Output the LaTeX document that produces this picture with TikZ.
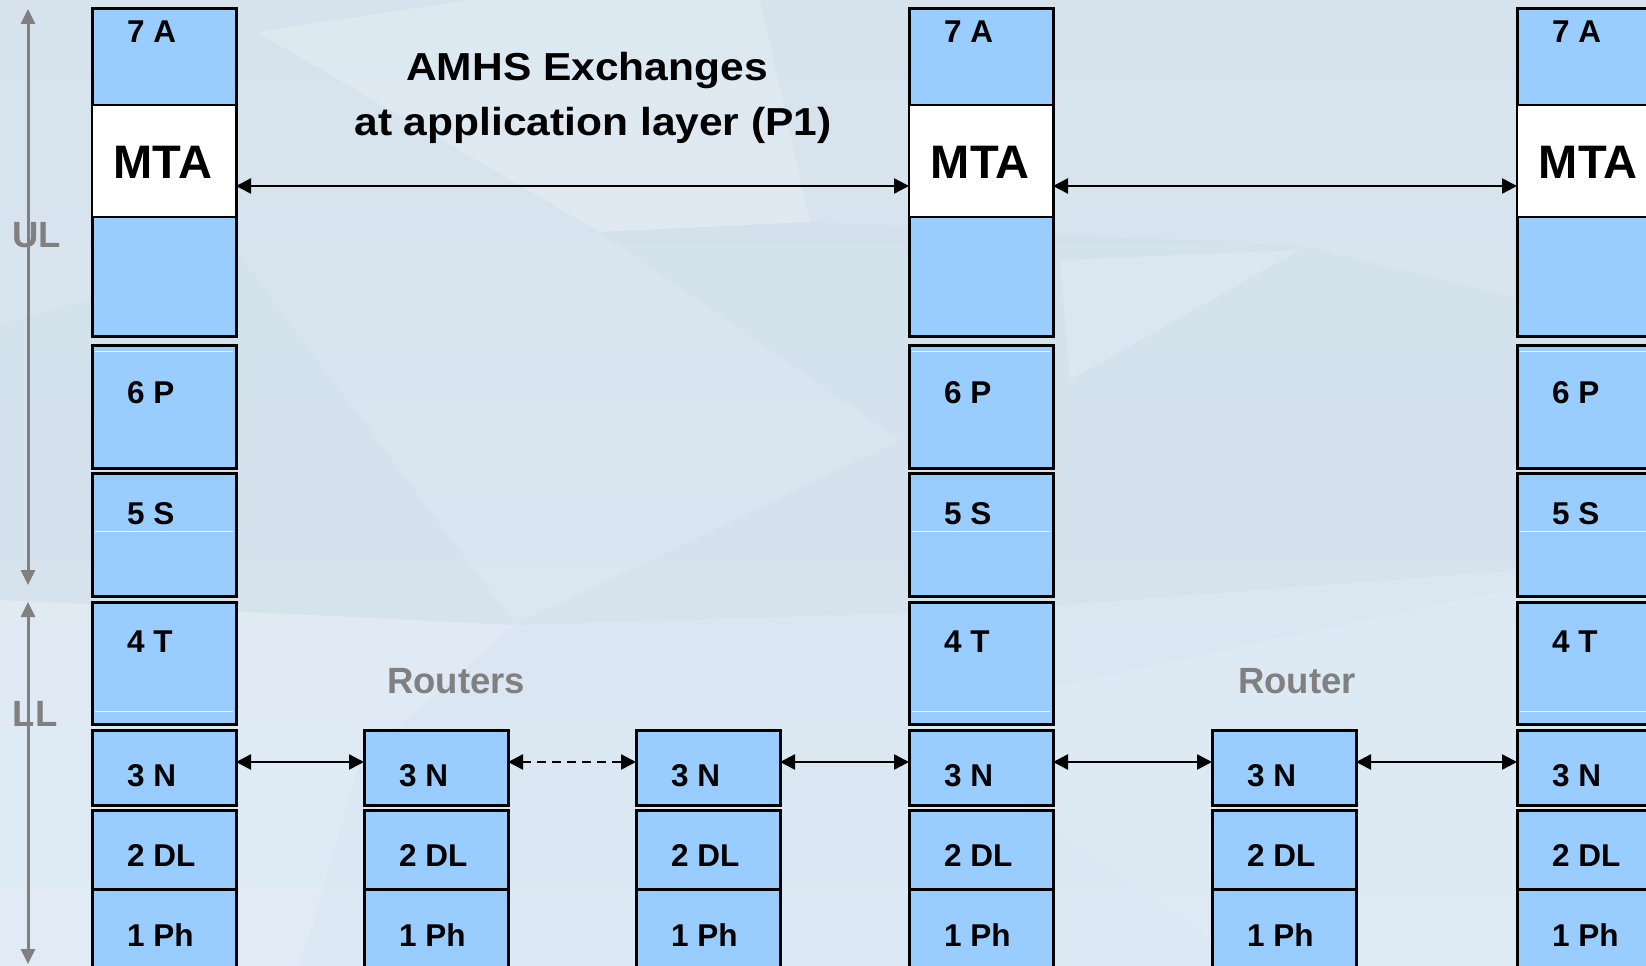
\documentclass[tikz,border=0pt]{standalone}
\usepackage{fontspec}
\setmainfont{Liberation Sans}
\usetikzlibrary{arrows.meta}
\definecolor{layerblue}{HTML}{99CCFF}
\definecolor{bgtop}{HTML}{D6E3ED}
\definecolor{bgbot}{HTML}{DCE9F4}
\definecolor{bglight}{HTML}{E4EEF6}
\definecolor{bgdark}{HTML}{CFDDE8}
\definecolor{labelgray}{HTML}{808080}
\tikzset{
  layerbox/.style={draw=black, line width=3pt, fill=layerblue, anchor=north west,
    minimum width=144pt, inner sep=0pt, outer sep=0pt},
  mtabox/.style={draw=black, line width=2.5pt, fill=white, anchor=north west,
    minimum width=144pt, minimum height=112pt, inner sep=0pt, outer sep=0pt},
  layertext/.style={anchor=base west, inner sep=0pt, font=\bfseries\fontsize{31.5}{36}\selectfont},
  mtatext/.style={anchor=base, inner sep=0pt, font=\bfseries\fontsize{47}{50}\selectfont},
  titletext/.style={anchor=base, inner sep=0pt, font=\bfseries\fontsize{39}{44}\selectfont},
  graytext/.style={anchor=base, inner sep=0pt, text=labelgray, font=\bfseries\fontsize{36.5}{40}\selectfont},
  faintline/.style={draw=white, line width=1pt, opacity=0.85},
  conn/.style={draw=black, line width=2.5pt,
    {Triangle[length=15pt,width=15pt]}-{Triangle[length=15pt,width=15pt]}},
  dashconn/.style={conn, dash pattern=on 9pt off 6pt},
  grayarrow/.style={draw=labelgray, line width=3pt,
    {Triangle[length=15pt,width=14pt]}-{Triangle[length=15pt,width=14pt]}},
}
% #1 name, #2 x, #3 top, #4 bottom, #5 label, #6 baseline offset
\newcommand\osilayer[6]{%
  \node[layerbox, minimum height={(#4-#3)*1pt}] (#1) at (#2,#3) {};
  \node[layertext] (#1-t) at (#2+35,#3+#6) {#5};
}
\begin{document}
\begin{tikzpicture}[x=1pt,y=-1pt]
\useasboundingbox (0,0) rectangle (1646,966);
\clip (0,0) rectangle (1646,966);
% background
\shade[top color=bgtop, bottom color=bgbot] (0,0) rectangle (1646,966);
\fill[bglight, opacity=0.55] (257,32) -- (470,0) -- (760,0) -- (810,222) -- (600,232) -- cycle;
\fill[bgdark, opacity=0.35] (0,325) -- (240,255) -- (515,625) -- (900,440) -- (600,232) -- (810,222) -- (1300,245) -- (1646,330) -- (1646,560) -- (1000,610) -- (515,625) -- (0,600) -- cycle;
\fill[bglight, opacity=0.5] (0,600) -- (515,625) -- (360,760) -- (300,966) -- (0,966) -- cycle;
\fill[bglight, opacity=0.4] (1060,260) -- (1300,250) -- (1070,380) -- cycle;
\fill[bglight, opacity=0.3] (900,720) -- (1646,560) -- (1646,966) -- (1250,966) -- cycle;

% full stacks
\foreach \s/\x in {A/92,B/909,C/1517}{
  \osilayer{\s-7}{\x}{9}{336}{7 A}{34}
  \node[mtabox] (\s-mta) at (\x,105) {};
  \node[mtatext] (\s-mtat) at (\x+71,178) {MTA};
  \osilayer{\s-6}{\x}{345}{468}{6 P}{58}
  \osilayer{\s-5}{\x}{473}{596}{5 S}{51}
  \osilayer{\s-4}{\x}{602}{724}{4 T}{50}
  \osilayer{\s-3}{\x}{730}{805}{3 N}{56}
  \osilayer{\s-2}{\x}{810}{889}{2 DL}{56}
  \osilayer{\s-1}{\x}{889}{990}{1 Ph}{57}
  \draw[faintline] (\x+3,351) -- (\x+141,351);
  \draw[faintline] (\x+3,531) -- (\x+141,531);
  \draw[faintline] (\x+3,711) -- (\x+141,711);
}
% router stacks
\foreach \s/\x in {R1/364,R2/636,R3/1212}{
  \osilayer{\s-3}{\x}{730}{805}{3 N}{56}
  \osilayer{\s-2}{\x}{810}{889}{2 DL}{56}
  \osilayer{\s-1}{\x}{889}{990}{1 Ph}{57}
}

% titles
\node[titletext] (title1) at (587,81) {\scalebox{1.09}[1]{AMHS Exchanges}};
\node[titletext] (title2) at (593,135) {\scalebox{1.09}[1]{at application layer (P1)}};
\node[graytext] (routers) at (456,693) {Routers};
\node[graytext] (router) at (1297,693) {Router};

% side arrows
\coordinate (ulTop) at (28,9);
\coordinate (ulBot) at (28,585);
\coordinate (llTop) at (28,602);
\coordinate (llBot) at (28,964);
\draw[grayarrow] (ulTop) -- (ulBot);
\draw[grayarrow] (llTop) -- (llBot);
\node[graytext] (ul) at (36.5,247) {UL};
\node[graytext] (ll) at (35,726) {LL};

% MTA exchanges
\draw[conn] ([yshift=-25pt]A-mta.east) -- ([yshift=-25pt]B-mta.west);
\draw[conn] ([yshift=-25pt]B-mta.east) -- ([yshift=-25pt]C-mta.west);
% network layer
\draw[conn] ([yshift=5.5pt]A-3.east) -- ([yshift=5.5pt]R1-3.west);
\draw[dashconn] ([yshift=5.5pt]R1-3.east) -- ([yshift=5.5pt]R2-3.west);
\draw[conn] ([yshift=5.5pt]R2-3.east) -- ([yshift=5.5pt]B-3.west);
\draw[conn] ([yshift=5.5pt]B-3.east) -- ([yshift=5.5pt]R3-3.west);
\draw[conn] ([yshift=5.5pt]R3-3.east) -- ([yshift=5.5pt]C-3.west);
\end{tikzpicture}
\end{document}
